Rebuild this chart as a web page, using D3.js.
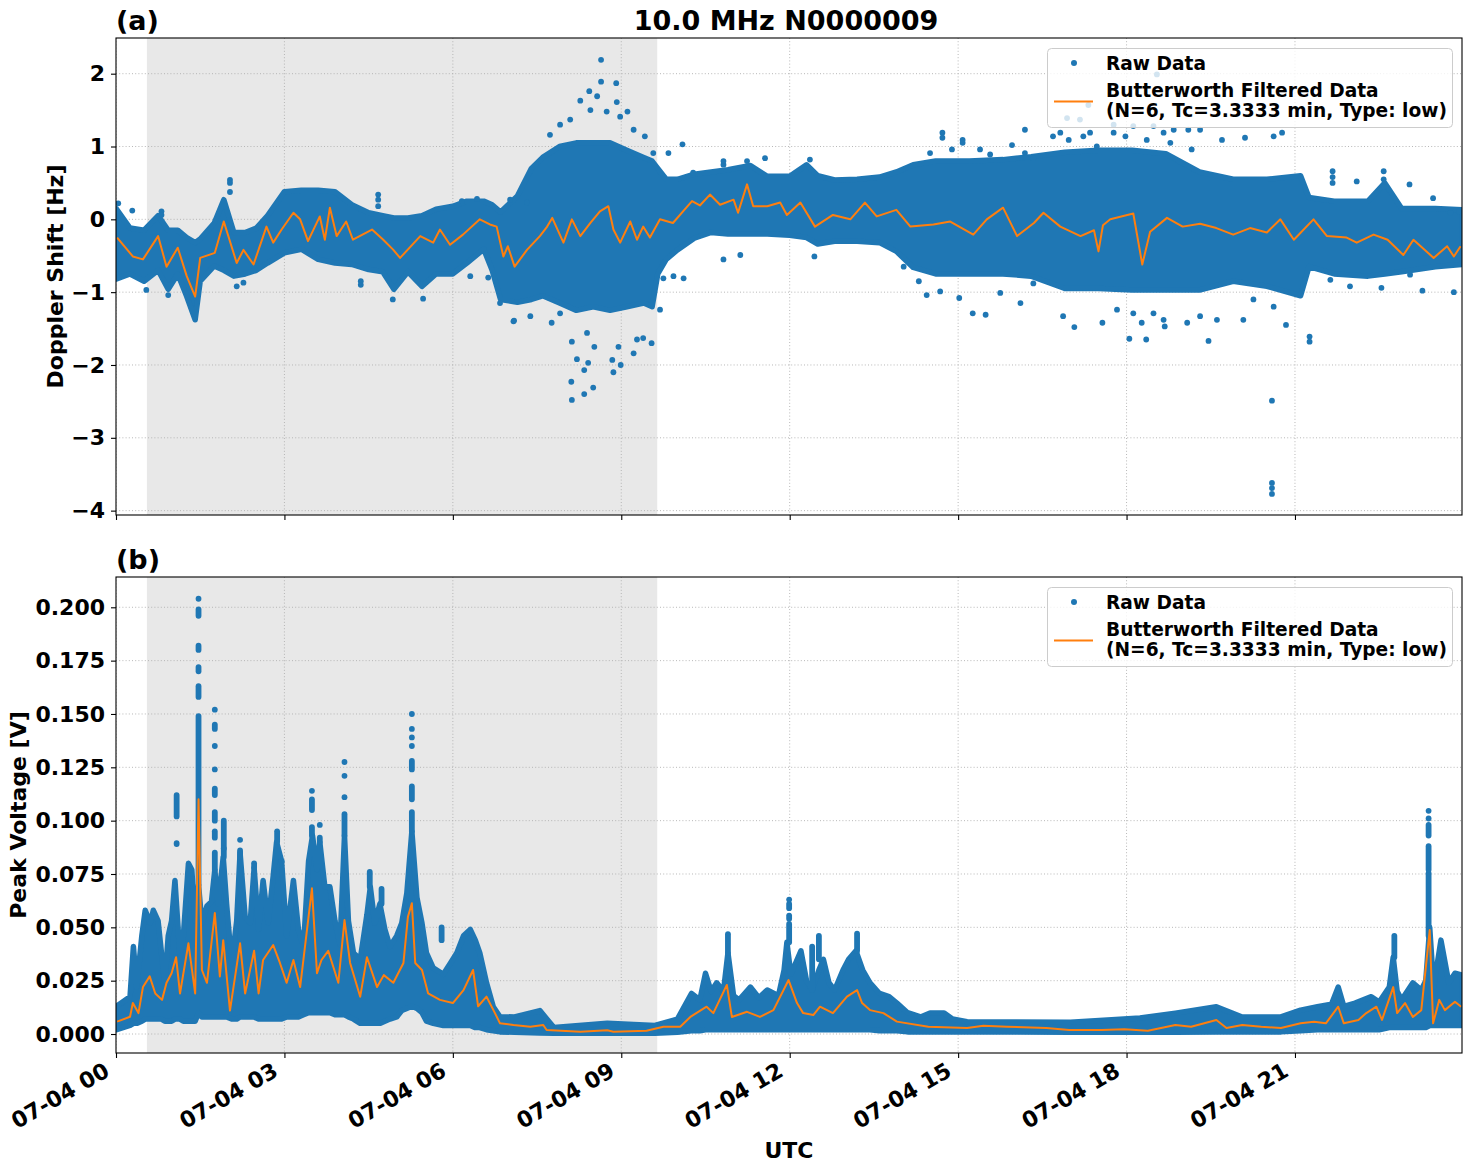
<!DOCTYPE html>
<html><head><meta charset="utf-8">
<script src="https://cdn.jsdelivr.net/npm/d3@7"></script>
<style>body{margin:0;background:#fff} text{font-family:"DejaVu Sans",sans-serif;font-weight:bold;fill:#000}</style>
</head><body><svg id="c" width="1472" height="1172"></svg>
<script>
// ---------------- DATA ----------------
const chartTitle = "10.0 MHz N0000009";
const panelTags = ["(a)", "(b)"];
const yLabelA = "Doppler Shift [Hz]";
const yLabelB = "Peak Voltage [V]";
const xLabel = "UTC";
const legendRaw = "Raw Data";
const legendFilt = ["Butterworth Filtered Data", "(N=6, Tc=3.3333 min, Type: low)"];
const xTickHours = [0, 3, 6, 9, 12, 15, 18, 21];
const xTickLabels = ["07-04 00", "07-04 03", "07-04 06", "07-04 09", "07-04 12", "07-04 15", "07-04 18", "07-04 21"];
const xEndHour = 23.975;
const yTicksA = [2, 1, 0, -1, -2, -3, -4];
const yTicksB = [0, 0.025, 0.05, 0.075, 0.1, 0.125, 0.15, 0.175, 0.2];
const nightStartH = 0.55, nightEndH = 9.64;

// Panel (a): dense raw-data band (upper / lower edges of the solid cloud)
const bandTimeA = [0, 0.25, 0.5, 0.75, 0.93, 1.1, 1.26, 1.41, 1.5, 1.75,
  1.92, 2.1, 2.3, 2.5, 2.7, 3.0, 3.3, 3.6, 3.9, 4.2,
  4.5, 4.75, 4.95, 5.2, 5.45, 5.7, 6.0, 6.25, 6.55, 6.7,
  6.85, 7.15, 7.4, 7.6, 7.9, 8.2, 8.5, 8.8, 9.1, 9.4,
  9.55, 9.65, 9.8, 10.0, 10.3, 10.6, 10.9, 11.3, 11.6, 12.0,
  12.3, 12.5, 12.8, 13.2, 13.6, 13.9, 14.2, 14.6, 15.2, 15.8,
  16.3, 16.9, 17.5, 18.1, 18.7, 19.3, 19.9, 20.5, 21.1, 21.25,
  21.7, 22.3, 22.6, 22.9, 23.5, 23.975];
const bandUpA = [0.15, -0.12, -0.15, 0.05, -0.15, -0.15, -0.25, -0.32, -0.27, -0.05,
  0.27, -0.18, -0.18, -0.12, 0.05, 0.38, 0.40, 0.40, 0.38, 0.20,
  0.09, 0.05, 0.02, 0.02, 0.05, 0.14, 0.18, 0.25, 0.25, 0.20,
  0.10, 0.32, 0.70, 0.85, 1.00, 1.05, 1.05, 1.05, 0.95, 0.85,
  0.80, 0.70, 0.55, 0.55, 0.62, 0.65, 0.68, 0.74, 0.59, 0.59,
  0.75, 0.60, 0.54, 0.55, 0.58, 0.65, 0.75, 0.80, 0.80, 0.82,
  0.86, 0.92, 0.95, 0.95, 0.90, 0.65, 0.55, 0.55, 0.60, 0.30,
  0.25, 0.25, 0.50, 0.15, 0.15, 0.13];
const bandLoA = [-0.82, -0.75, -0.85, -0.70, -0.96, -0.75, -1.06, -1.38, -0.85, -0.64,
  -0.70, -0.78, -0.75, -0.70, -0.60, -0.46, -0.41, -0.55, -0.60, -0.62,
  -0.69, -0.72, -0.96, -0.72, -0.92, -0.75, -0.75, -0.60, -0.41, -0.70,
  -1.10, -1.14, -1.10, -1.05, -1.15, -1.25, -1.20, -1.25, -1.20, -1.15,
  -1.20, -0.75, -0.55, -0.42, -0.26, -0.18, -0.20, -0.20, -0.20, -0.22,
  -0.25, -0.34, -0.30, -0.30, -0.32, -0.44, -0.66, -0.75, -0.75, -0.75,
  -0.78, -0.95, -0.95, -0.97, -0.97, -0.97, -0.85, -0.92, -1.05, -0.65,
  -0.75, -0.78, -0.75, -0.72, -0.65, -0.62];

// Panel (a): isolated raw points outside the dense band
const scatTimeA = [0.04, 0.29, 0.81, 0.81, 2.03, 2.03, 2.03, 4.67, 4.67, 4.67,
  6.16, 6.43, 7.02, 7.32, 0.54, 0.93, 2.15, 2.27, 4.36, 4.36,
  4.93, 5.47, 6.31, 6.63, 7.09, 7.76, 6.84, 7.08, 7.38, 7.91,
  7.73, 7.91, 8.09, 8.27, 8.43, 8.45, 8.57, 8.64, 8.64, 8.74,
  8.91, 8.92, 8.98, 9.11, 9.22, 9.42, 9.57, 9.84, 10.09, 10.28,
  10.82, 8.12, 8.21, 8.11, 8.12, 8.34, 8.34, 8.50, 8.41, 8.52,
  8.39, 8.86, 8.84, 8.99, 8.95, 9.22, 9.28, 9.39, 9.54, 9.69,
  9.75, 9.93, 10.11, 10.82, 11.12, 12.44, 11.56, 14.03, 14.44, 15.02,
  15.26, 15.49, 16.11, 16.87, 17.07, 17.57, 18.05, 18.35, 18.68, 19.08,
  19.46, 20.84, 21.26, 21.26, 20.59, 20.59, 20.59, 20.59, 23.83, 23.27,
  22.54, 17.83, 18.12, 18.27, 18.48, 18.66, 19.31, 19.61, 20.08, 20.26,
  20.62, 21.63, 21.98, 23.05, 14.72, 14.72, 15.08, 15.08, 16.19, 16.82,
  14.50, 14.89, 15.39, 15.57, 15.96, 16.19, 16.34, 16.97, 17.23, 17.47,
  17.77, 17.98, 18.36, 18.66, 18.78, 19.10, 19.16, 16.69, 16.94, 17.17,
  17.32, 17.35, 17.77, 18.12, 18.54, 18.48, 18.84, 19.31, 19.70, 20.11,
  20.62, 20.77, 21.67, 21.67, 21.67, 22.10, 22.58, 22.58, 22.58, 23.04,
  23.46, 23.77, 23.92, 14.30, 14.68, 15.75, 16.34, 10.82, 11.24, 12.36];
const scatValA = [0.22, 0.12, 0.11, 0.06, 0.54, 0.50, 0.375, 0.34, 0.27, 0.18,
  0.25, 0.28, 0.27, 0.23, -0.97, -1.04, -0.92, -0.87, -0.85, -0.90,
  -1.10, -1.09, -0.78, -0.80, -1.39, -1.42, -1.15, -1.40, -1.33, -1.29,
  1.16, 1.30, 1.37, 1.63, 1.76, 1.50, 1.69, 1.89, 2.19, 1.48,
  1.87, 1.61, 1.41, 1.48, 1.23, 1.14, 0.91, 0.91, 1.03, 0.64,
  0.75, -1.68, -1.92, -2.23, -2.48, -2.40, -2.07, -2.31, -1.97, -1.75,
  -1.56, -2.10, -1.93, -2.00, -1.75, -1.84, -1.65, -1.63, -1.70, -1.24,
  -0.81, -0.78, -0.81, -0.55, -0.49, -0.51, 0.84, -0.65, -1.04, -1.08,
  -1.29, -1.31, -1.15, -1.33, -1.48, -1.42, -1.64, -1.65, -1.47, -1.42,
  -1.67, -1.45, -1.61, -1.68, -2.49, -3.62, -3.69, -3.77, -1.00, -0.98,
  -0.94, -1.24, -1.29, -1.42, -1.29, -1.38, -1.33, -1.38, -1.38, -1.10,
  -1.20, -0.83, -0.92, -0.76, 1.19, 1.12, 1.09, 1.05, 1.23, 1.19,
  0.91, 0.96, 0.96, 0.89, 1.02, 0.91, 0.84, 1.09, 1.14, 1.00,
  1.19, 1.14, 1.09, 1.19, 1.05, 1.23, 0.96, 1.14, 1.39, 1.37,
  1.57, 1.19, 1.30, 1.28, 1.99, 1.28, 1.23, 1.23, 1.09, 1.12,
  1.14, 1.19, 0.66, 0.58, 0.50, 0.52, 0.66, 0.55, 0.45, 0.48,
  0.29, 0.09, 0.11, -0.85, -0.99, -1.01, -0.88, 0.80, 0.80, 0.82];

// Panel (a): Butterworth filtered curve
const filtTimeA = [0.02, 0.30, 0.48, 0.75, 0.90, 1.10, 1.26, 1.41, 1.50, 1.76,
  1.92, 2.15, 2.27, 2.45, 2.68, 2.80, 2.95, 3.16, 3.28, 3.42,
  3.63, 3.72, 3.81, 3.93, 4.10, 4.22, 4.56, 4.76, 4.94, 5.06,
  5.42, 5.65, 5.77, 5.95, 6.18, 6.48, 6.66, 6.78, 6.90, 6.98,
  7.10, 7.32, 7.55, 7.68, 7.77, 7.97, 8.12, 8.27, 8.45, 8.62,
  8.77, 8.86, 8.98, 9.16, 9.28, 9.39, 9.51, 9.69, 9.92, 10.10,
  10.26, 10.40, 10.58, 10.76, 11.00, 11.08, 11.24, 11.35, 11.60, 11.83,
  11.95, 12.19, 12.45, 12.77, 13.08, 13.34, 13.55, 13.90, 14.15, 14.56,
  14.86, 15.27, 15.51, 15.80, 16.05, 16.35, 16.52, 16.82, 17.18, 17.42,
  17.50, 17.58, 17.71, 18.12, 18.28, 18.42, 18.72, 19.00, 19.31, 19.60,
  19.90, 20.20, 20.50, 20.74, 20.98, 21.33, 21.57, 21.92, 22.10, 22.40,
  22.65, 22.93, 23.11, 23.47, 23.71, 23.83, 23.95];
const filtValA = [-0.25, -0.51, -0.55, -0.23, -0.65, -0.39, -0.78, -1.06, -0.53, -0.46,
  -0.03, -0.60, -0.42, -0.62, -0.10, -0.32, -0.14, 0.09, 0.00, -0.30,
  0.04, -0.28, 0.16, -0.23, -0.03, -0.28, -0.14, -0.28, -0.42, -0.53,
  -0.23, -0.32, -0.14, -0.35, -0.21, 0.00, -0.07, -0.10, -0.51, -0.37,
  -0.65, -0.42, -0.23, -0.10, 0.02, -0.32, 0.00, -0.23, -0.05, 0.11,
  0.18, -0.14, -0.32, -0.03, -0.28, -0.10, -0.25, 0.00, -0.05, 0.11,
  0.25, 0.19, 0.34, 0.20, 0.27, 0.09, 0.48, 0.18, 0.18, 0.23,
  0.06, 0.23, -0.10, 0.06, 0.00, 0.23, 0.04, 0.13, -0.10, -0.07,
  -0.03, -0.21, 0.00, 0.16, -0.23, -0.05, 0.09, -0.10, -0.23, -0.15,
  -0.44, -0.08, 0.00, 0.08, -0.62, -0.17, 0.02, -0.10, -0.06, -0.12,
  -0.21, -0.12, -0.18, 0.00, -0.28, 0.00, -0.23, -0.25, -0.32, -0.21,
  -0.28, -0.49, -0.28, -0.53, -0.37, -0.51, -0.37];

// Panel (b): dense raw-data band
const bandTimeB = [0.00, 0.25, 0.31, 0.37, 0.46, 0.52, 0.61, 0.665, 0.75, 0.81,
  0.87, 0.93, 0.99, 1.05, 1.14, 1.20, 1.29, 1.35, 1.41, 1.47,
  1.53, 1.62, 1.70, 1.76, 1.82, 1.91, 1.97, 2.06, 2.15, 2.21,
  2.30, 2.39, 2.46, 2.54, 2.62, 2.71, 2.80, 2.86, 2.95, 3.04,
  3.16, 3.25, 3.34, 3.43, 3.50, 3.58, 3.63, 3.72, 3.81, 3.90,
  3.99, 4.07, 4.14, 4.23, 4.35, 4.47, 4.53, 4.61, 4.70, 4.79,
  4.88, 5.00, 5.09, 5.18, 5.27, 5.36, 5.45, 5.53, 5.65, 5.83,
  5.95, 6.07, 6.19, 6.31, 6.40, 6.48, 6.60, 6.72, 6.84, 7.10,
  7.55, 7.80, 8.75, 9.60, 10.00, 10.25, 10.40, 10.50, 10.60, 10.70,
  10.82, 10.90, 11.00, 11.10, 11.30, 11.45, 11.60, 11.80, 11.90, 11.95,
  12.02, 12.20, 12.30, 12.40, 12.52, 12.60, 12.70, 12.80, 12.95, 13.05,
  13.18, 13.30, 13.43, 13.60, 13.77, 13.91, 14.10, 14.33, 14.50, 14.75,
  14.90, 15.16, 17.00, 18.24, 18.87, 19.60, 20.06, 20.75, 21.10, 21.40,
  21.65, 21.77, 21.87, 22.07, 22.36, 22.50, 22.68, 22.75, 22.82, 22.90,
  23.10, 23.25, 23.33, 23.40, 23.47, 23.60, 23.74, 23.85, 23.975];
const bandUpB = [0.0128, 0.0175, 0.041, 0.022, 0.046, 0.058, 0.052, 0.058, 0.053, 0.038,
  0.024, 0.046, 0.053, 0.072, 0.036, 0.046, 0.080, 0.077, 0.053, 0.070,
  0.052, 0.060, 0.062, 0.077, 0.061, 0.083, 0.061, 0.033, 0.053, 0.085,
  0.055, 0.052, 0.078, 0.049, 0.072, 0.052, 0.074, 0.090, 0.081, 0.046,
  0.072, 0.049, 0.041, 0.081, 0.093, 0.077, 0.090, 0.069, 0.069, 0.053,
  0.042, 0.093, 0.053, 0.038, 0.035, 0.056, 0.069, 0.052, 0.061, 0.049,
  0.041, 0.046, 0.052, 0.066, 0.095, 0.064, 0.052, 0.038, 0.031, 0.028,
  0.033, 0.038, 0.046, 0.049, 0.044, 0.038, 0.024, 0.0128, 0.0081, 0.008,
  0.011, 0.003, 0.005, 0.004, 0.007, 0.019, 0.016, 0.0285, 0.020, 0.024,
  0.020, 0.038, 0.018, 0.016, 0.022, 0.017, 0.0206, 0.018, 0.030, 0.043,
  0.028, 0.039, 0.025, 0.0206, 0.030, 0.035, 0.024, 0.0206, 0.030, 0.035,
  0.039, 0.030, 0.024, 0.019, 0.0175, 0.0145, 0.010, 0.008, 0.0098, 0.0098,
  0.007, 0.0058, 0.0055, 0.0075, 0.0098, 0.0128, 0.008, 0.008, 0.0112, 0.0128,
  0.014, 0.022, 0.013, 0.0145, 0.0175, 0.015, 0.022, 0.036, 0.020, 0.016,
  0.024, 0.0206, 0.025, 0.050, 0.022, 0.044, 0.024, 0.0285, 0.0276];
const bandLoB = [0.002, 0.004, 0.005, 0.005, 0.006, 0.007, 0.007, 0.007, 0.007, 0.007,
  0.006, 0.006, 0.006, 0.007, 0.007, 0.006, 0.006, 0.006, 0.006, 0.010,
  0.008, 0.008, 0.008, 0.008, 0.008, 0.008, 0.008, 0.007, 0.007, 0.008,
  0.008, 0.008, 0.008, 0.007, 0.007, 0.007, 0.007, 0.007, 0.007, 0.008,
  0.008, 0.008, 0.009, 0.010, 0.010, 0.010, 0.010, 0.010, 0.010, 0.009,
  0.009, 0.009, 0.008, 0.007, 0.005, 0.005, 0.005, 0.005, 0.005, 0.006,
  0.007, 0.008, 0.011, 0.012, 0.013, 0.012, 0.010, 0.006, 0.005, 0.004,
  0.004, 0.004, 0.004, 0.004, 0.003, 0.003, 0.002, 0.0015, 0.001, 0.0008,
  0.0005, 0.0003, 0.0003, 0.0003, 0.0008, 0.0015, 0.0015, 0.002, 0.002, 0.002,
  0.002, 0.002, 0.002, 0.002, 0.002, 0.002, 0.002, 0.002, 0.002, 0.002,
  0.002, 0.002, 0.002, 0.002, 0.002, 0.002, 0.002, 0.002, 0.002, 0.002,
  0.002, 0.002, 0.002, 0.0015, 0.0015, 0.0015, 0.001, 0.001, 0.001, 0.001,
  0.001, 0.001, 0.0008, 0.0008, 0.0008, 0.001, 0.001, 0.001, 0.0015, 0.002,
  0.002, 0.002, 0.002, 0.002, 0.002, 0.002, 0.003, 0.003, 0.003, 0.003,
  0.003, 0.003, 0.003, 0.004, 0.004, 0.004, 0.004, 0.004, 0.004];

// Panel (b): vertical runs of raw points above the band (time, from, to)
const colTimeB = [1.08, 1.08,
  1.47, 1.47, 1.47, 1.47, 1.47, 1.47,
  1.76, 1.76, 1.76, 1.76, 1.76, 1.76, 1.76, 1.76,
  1.92, 1.92, 2.21, 2.21, 2.46, 2.87, 2.95,
  3.49, 3.49, 3.49, 3.63, 3.63,
  4.07, 4.07, 4.07, 4.07, 4.52, 4.73,
  5.27, 5.27, 5.27, 5.27, 5.27, 5.27, 5.27, 5.80,
  10.90, 11.99, 11.99, 11.99, 11.99, 12.40, 12.52, 13.20,
  22.77, 23.38, 23.38, 23.38, 23.38, 23.38];
const colFromB = [0.102, 0.089,
  0.070, 0.158, 0.170, 0.180, 0.196, 0.204,
  0.077, 0.092, 0.100, 0.112, 0.124, 0.135, 0.143, 0.152,
  0.083, 0.087, 0.083, 0.091, 0.078, 0.090, 0.081,
  0.093, 0.105, 0.114, 0.090, 0.098,
  0.093, 0.111, 0.121, 0.1275, 0.069, 0.061,
  0.095, 0.110, 0.124, 0.135, 0.139, 0.143, 0.150, 0.044,
  0.038, 0.043, 0.054, 0.059, 0.063, 0.0206, 0.035, 0.039,
  0.036, 0.046, 0.077, 0.093, 0.101, 0.1046];
const colToB = [0.112, 0.0895,
  0.149, 0.163, 0.172, 0.182, 0.199, 0.204,
  0.085, 0.095, 0.104, 0.115, 0.124, 0.135, 0.145, 0.152,
  0.100, 0.087, 0.086, 0.091, 0.080, 0.095, 0.081,
  0.097, 0.110, 0.114, 0.092, 0.098,
  0.103, 0.111, 0.121, 0.1275, 0.076, 0.068,
  0.104, 0.116, 0.128, 0.135, 0.139, 0.143, 0.150, 0.050,
  0.0468, 0.0516, 0.0555, 0.061, 0.063, 0.041, 0.046, 0.047,
  0.046, 0.0754, 0.088, 0.098, 0.101, 0.1046];

// Panel (b): Butterworth filtered curve
const filtTimeB = [0.02, 0.25, 0.30, 0.40, 0.48, 0.60, 0.70, 0.82, 0.90, 0.99,
  1.07, 1.14, 1.29, 1.41, 1.47, 1.53, 1.62, 1.76, 1.85, 1.91,
  2.03, 2.21, 2.30, 2.46, 2.54, 2.62, 2.80, 2.92, 3.04, 3.16,
  3.28, 3.49, 3.58, 3.66, 3.78, 3.96, 4.07, 4.17, 4.35, 4.47,
  4.65, 4.77, 4.94, 5.12, 5.20, 5.27, 5.33, 5.45, 5.56, 5.77,
  6.00, 6.19, 6.36, 6.45, 6.60, 6.75, 6.84, 7.08, 7.38, 7.61,
  7.67, 8.27, 8.75, 8.86, 9.45, 9.75, 10.05, 10.23, 10.52, 10.64,
  10.88, 10.97, 11.24, 11.47, 11.71, 11.98, 12.13, 12.24, 12.42, 12.54,
  12.77, 13.02, 13.20, 13.29, 13.43, 13.67, 13.91, 14.47, 15.16, 15.45,
  15.87, 16.57, 16.98, 17.55, 17.96, 18.38, 18.87, 19.15, 19.60, 19.78,
  20.06, 20.40, 20.75, 21.10, 21.34, 21.55, 21.77, 21.87, 22.13, 22.27,
  22.45, 22.55, 22.75, 22.82, 22.96, 23.10, 23.25, 23.40, 23.46, 23.57,
  23.67, 23.85, 23.96];
const filtValB = [0.0058, 0.0081, 0.0145, 0.0098, 0.022, 0.027, 0.019, 0.016, 0.024, 0.0285,
  0.036, 0.019, 0.0425, 0.019, 0.110, 0.030, 0.024, 0.0567, 0.027, 0.044,
  0.011, 0.0425, 0.019, 0.039, 0.019, 0.0347, 0.0417, 0.0333, 0.024, 0.0347,
  0.022, 0.0683, 0.0285, 0.0347, 0.039, 0.024, 0.0534, 0.0333, 0.0175, 0.036,
  0.022, 0.0276, 0.024, 0.0333, 0.055, 0.0613, 0.0333, 0.030, 0.019, 0.016,
  0.0145, 0.0206, 0.030, 0.013, 0.0175, 0.0098, 0.005, 0.0042, 0.0034, 0.0042,
  0.0019, 0.0011, 0.0018, 0.0011, 0.0015, 0.0034, 0.0034, 0.008, 0.0128, 0.0098,
  0.023, 0.008, 0.0104, 0.008, 0.0112, 0.0253, 0.0145, 0.0098, 0.0089, 0.0128,
  0.0098, 0.0175, 0.0206, 0.0145, 0.0112, 0.0098, 0.0058, 0.0034, 0.0028, 0.0039,
  0.0034, 0.0028, 0.0019, 0.0019, 0.0022, 0.0015, 0.0042, 0.0034, 0.0066, 0.0028,
  0.0042, 0.0034, 0.0028, 0.005, 0.0058, 0.005, 0.0128, 0.005, 0.0066, 0.0098,
  0.0128, 0.0066, 0.022, 0.0098, 0.0145, 0.008, 0.0112, 0.0487, 0.005, 0.016,
  0.0112, 0.0151, 0.0128];

// ---------------- DRAW ----------------
const BLUE = "#1f77b4", ORANGE = "#ff7f0e";
const svg = d3.select("#c");
svg.append("rect").attr("width", 1472).attr("height", 1172).attr("fill", "#fff");
const X0 = 116, X1 = 1462;
const t0 = Date.UTC(2000, 6, 4, 0, 0, 0);
const toDate = h => new Date(t0 + h * 3600e3);
const x = d3.scaleUtc().domain([toDate(0), toDate(xEndHour)]).range([X0, X1]);
const xh = h => x(toDate(h));

const panels = [
  { id: "a", top: 38, bottom: 515, y: d3.scaleLinear().domain([-4.06, 2.49]).range([515, 38]),
    ticks: yTicksA, fmt: d3.format(""), bandT: bandTimeA, bandU: bandUpA, bandL: bandLoA,
    fT: filtTimeA, fV: filtValA, tag: panelTags[0], ylabel: yLabelA, ylabelX: 63 },
  { id: "b", top: 577, bottom: 1053, y: d3.scaleLinear().domain([-0.0089, 0.2142]).range([1053, 577]),
    ticks: yTicksB, fmt: d3.format(".3f"), bandT: bandTimeB, bandU: bandUpB, bandL: bandLoB,
    fT: filtTimeB, fV: filtValB, tag: panelTags[1], ylabel: yLabelB, ylabelX: 26 }
];

panels.forEach((p, pi) => {
  const y = p.y;
  const clipId = "clip" + p.id;
  svg.append("clipPath").attr("id", clipId).append("rect")
    .attr("x", X0).attr("y", p.top).attr("width", X1 - X0).attr("height", p.bottom - p.top);
  const pg = svg.append("g").attr("clip-path", `url(#${clipId})`);
  // night shading
  pg.append("rect").attr("x", xh(nightStartH)).attr("y", p.top)
    .attr("width", xh(nightEndH) - xh(nightStartH)).attr("height", p.bottom - p.top)
    .attr("fill", "#e8e8e8");
  // grid
  const grid = pg.append("g").attr("stroke", "#b0b0b0").attr("stroke-width", 0.9).attr("stroke-dasharray", "1,2.2");
  xTickHours.forEach(h => grid.append("line").attr("x1", xh(h)).attr("x2", xh(h)).attr("y1", p.top).attr("y2", p.bottom));
  p.ticks.forEach(v => grid.append("line").attr("x1", X0).attr("x2", X1).attr("y1", y(v)).attr("y2", y(v)));
  // dense raw band
  const band = d3.zip(p.bandT, p.bandU, p.bandL);
  const area = d3.area().x(d => xh(d[0])).y0(d => y(d[2])).y1(d => y(d[1]));
  pg.append("path").datum(band).attr("d", area).attr("fill", BLUE)
    .attr("stroke", BLUE).attr("stroke-width", 5.5).attr("stroke-linejoin", "round");
  // isolated raw points / runs
  if (pi === 0) {
    pg.append("g").selectAll("circle").data(d3.zip(scatTimeA, scatValA)).join("circle")
      .attr("cx", d => xh(d[0])).attr("cy", d => y(d[1])).attr("r", 2.9).attr("fill", BLUE);
  } else {
    pg.append("g").selectAll("line").data(d3.zip(colTimeB, colFromB, colToB)).join("line")
      .attr("x1", d => xh(d[0])).attr("x2", d => xh(d[0]))
      .attr("y1", d => y(d[1])).attr("y2", d => y(d[2]))
      .attr("stroke", BLUE).attr("stroke-width", 5.8).attr("stroke-linecap", "round");
  }
  // filtered line
  const line = d3.line().x(d => xh(d[0])).y(d => y(d[1]));
  pg.append("path").datum(d3.zip(p.fT, p.fV)).attr("d", line).attr("fill", "none")
    .attr("stroke", ORANGE).attr("stroke-width", 2).attr("stroke-linejoin", "round");

  // y axis
  const ya = svg.append("g").attr("transform", `translate(${X0},0)`)
    .call(d3.axisLeft(y).tickValues(p.ticks).tickFormat(p.fmt).tickSize(5).tickPadding(6));
  ya.select(".domain").remove();
  ya.selectAll(".tick line").attr("stroke", "#000").attr("stroke-width", 1.1);
  ya.selectAll(".tick text").attr("font-size", 22).attr("font-family", "DejaVu Sans").attr("font-weight", "bold").attr("fill", "#000");
  // x axis ticks
  const xa = svg.append("g").attr("transform", `translate(0,${p.bottom})`)
    .call(d3.axisBottom(x).tickValues(xTickHours.map(toDate)).tickFormat("").tickSize(5));
  xa.select(".domain").remove();
  xa.selectAll(".tick line").attr("stroke", "#000").attr("stroke-width", 1.1);
  if (pi === 1) {
    xTickHours.forEach((h, i) => {
      svg.append("text").attr("text-anchor", "end").attr("font-size", 22)
        .attr("transform", `translate(${xh(h) - 5},${p.bottom + 22}) rotate(-30)`)
        .text(xTickLabels[i]);
    });
  }
  // spines
  svg.append("rect").attr("x", X0).attr("y", p.top).attr("width", X1 - X0).attr("height", p.bottom - p.top)
    .attr("fill", "none").attr("stroke", "#000").attr("stroke-width", 1.1);
  // panel tag
  svg.append("text").attr("x", X0).attr("y", p.top - 8).attr("font-size", 27).text(p.tag);
  // y label
  svg.append("text").attr("font-size", 22).attr("text-anchor", "middle")
    .attr("transform", `translate(${p.ylabelX},${(p.top + p.bottom) / 2}) rotate(-90)`).text(p.ylabel);
  // legend
  const lg = svg.append("g").attr("transform", `translate(0,${p.top - 38})`);
  lg.append("rect").attr("x", 1047.5).attr("y", 48.5).attr("width", 405).attr("height", 79).attr("rx", 4)
    .attr("fill", "#fff").attr("fill-opacity", 0.8).attr("stroke", "#cccccc").attr("stroke-width", 1);
  lg.append("circle").attr("cx", 1074).attr("cy", 63).attr("r", 3).attr("fill", BLUE);
  lg.append("text").attr("x", 1106).attr("y", 70).attr("font-size", 18.6).text(legendRaw);
  lg.append("line").attr("x1", 1054).attr("x2", 1093).attr("y1", 101.5).attr("y2", 101.5)
    .attr("stroke", ORANGE).attr("stroke-width", 2);
  lg.append("text").attr("x", 1106).attr("y", 97).attr("font-size", 18.6).text(legendFilt[0]);
  lg.append("text").attr("x", 1106).attr("y", 117).attr("font-size", 18.6).text(legendFilt[1]);
});

svg.append("text").attr("x", 786).attr("y", 30).attr("text-anchor", "middle").attr("font-size", 27).text(chartTitle);
svg.append("text").attr("x", 789).attr("y", 1158).attr("text-anchor", "middle").attr("font-size", 22).text(xLabel);
</script></body></html>
